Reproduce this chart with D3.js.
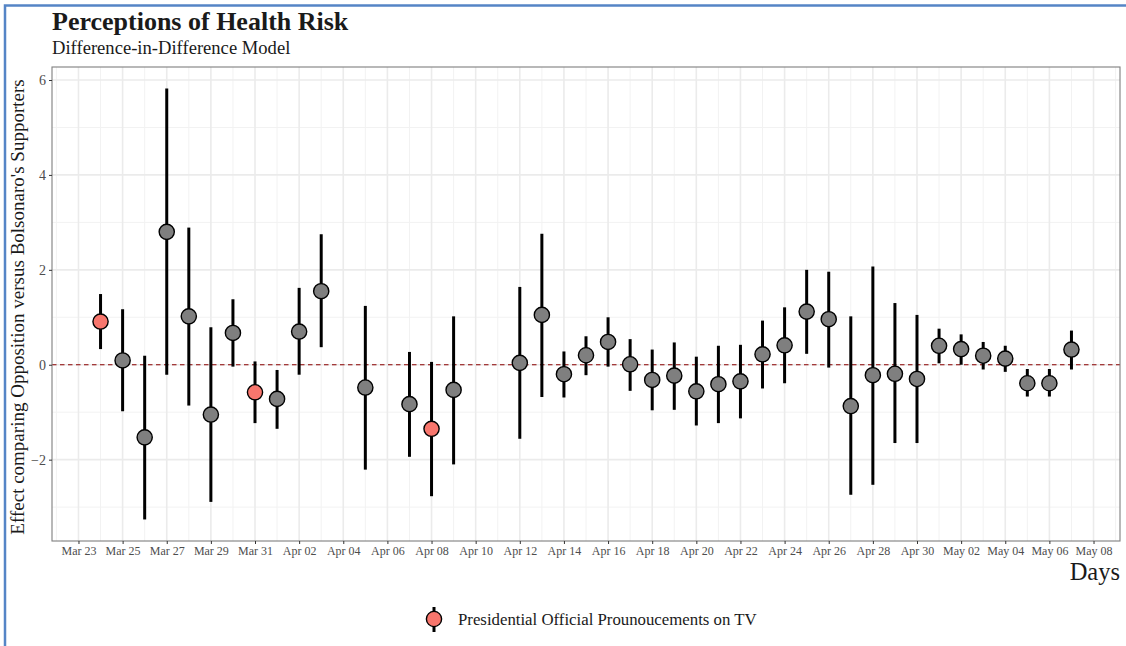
<!DOCTYPE html>
<html>
<head>
<meta charset="utf-8">
<script src="https://cdn.jsdelivr.net/npm/d3@7"></script>
<style>
  body { margin: 0; background: #fff; }
  svg { display: block; font-family: "Liberation Serif", "DejaVu Serif", serif; }
</style>
</head>
<body>
<div id="chart"></div>
<script>
const width = 1126;
const height = 646;

// Days with an estimate (2020)
const days = [
  "2020-03-24", "2020-03-25", "2020-03-26", "2020-03-27", "2020-03-28", "2020-03-29",
  "2020-03-30", "2020-03-31", "2020-04-01", "2020-04-02", "2020-04-03", "2020-04-05",
  "2020-04-07", "2020-04-08", "2020-04-09", "2020-04-12", "2020-04-13", "2020-04-14",
  "2020-04-15", "2020-04-16", "2020-04-17", "2020-04-18", "2020-04-19", "2020-04-20",
  "2020-04-21", "2020-04-22", "2020-04-23", "2020-04-24", "2020-04-25", "2020-04-26",
  "2020-04-27", "2020-04-28", "2020-04-29", "2020-04-30", "2020-05-01", "2020-05-02",
  "2020-05-03", "2020-05-04", "2020-05-05", "2020-05-06", "2020-05-07"
];
const estimates = [
  0.91, 0.09, -1.53, 2.80, 1.02, -1.05,
  0.67, -0.58, -0.72, 0.70, 1.55, -0.48,
  -0.83, -1.35, -0.53, 0.04, 1.05, -0.20,
  0.20, 0.48, 0.01, -0.32, -0.23, -0.56,
  -0.41, -0.35, 0.22, 0.41, 1.12, 0.96,
  -0.87, -0.22, -0.19, -0.30, 0.40, 0.33,
  0.19, 0.13, -0.39, -0.39, 0.32
];
const lower = [
  0.33, -0.98, -3.26, -0.21, -0.86, -2.89,
  -0.04, -1.23, -1.35, -0.21, 0.37, -2.21,
  -1.94, -2.77, -2.10, -1.56, -0.68, -0.69,
  -0.22, -0.04, -0.55, -0.96, -0.95, -1.28,
  -1.23, -1.13, -0.50, -0.39, 0.23, -0.06,
  -2.74, -2.53, -1.65, -1.65, 0.03, 0.00,
  -0.10, -0.15, -0.67, -0.67, -0.10
];
const upper = [
  1.49, 1.17, 0.19, 5.82, 2.89, 0.79,
  1.38, 0.07, -0.11, 1.62, 2.75, 1.24,
  0.27, 0.06, 1.02, 1.64, 2.76, 0.28,
  0.60, 1.00, 0.54, 0.32, 0.47, 0.17,
  0.40, 0.42, 0.93, 1.21, 2.00, 1.96,
  1.02, 2.07, 1.30, 1.05, 0.76, 0.64,
  0.48, 0.40, -0.09, -0.09, 0.72
];
// days with a presidential pronouncement on TV
const pronouncements = ["2020-03-24", "2020-03-31", "2020-04-08"];

const yTicks = [-2, 0, 2, 4, 6];
const yMinor = [-3, -1, 1, 3, 5];
const firstTick = "2020-03-23"; // x labels every 2 days from here

const parse = d3.utcParse("%Y-%m-%d");
const data = days.map((d, i) => ({
  date: parse(d),
  est: estimates[i],
  lo: lower[i],
  hi: upper[i],
  tv: pronouncements.includes(d)
}));

const margin = {top: 67, right: 6, bottom: 105, left: 52};
const panelW = width - margin.left - margin.right;
const panelH = height - margin.top - margin.bottom;

// ggplot style 5% expansion
const xExt = d3.extent(data, d => d.date);
const xPad = (xExt[1] - xExt[0]) * 0.05;
const x = d3.scaleUtc()
  .domain([new Date(+xExt[0] - xPad), new Date(+xExt[1] + xPad)])
  .range([margin.left, margin.left + panelW]);

const yLo = d3.min(data, d => d.lo), yHi = d3.max(data, d => d.hi);
const yPad = (yHi - yLo) * 0.05;
const y = d3.scaleLinear()
  .domain([yLo - yPad, yHi + yPad])
  .range([margin.top + panelH, margin.top]);

const svg = d3.select("#chart").append("svg")
  .attr("width", width)
  .attr("height", height)
  .attr("viewBox", [0, 0, width, height]);

svg.append("rect").attr("width", width).attr("height", height).attr("fill", "#fff");

// blue frame of the screenshot
svg.append("path")
  .attr("d", `M5,${height} V5.5 H${width}`)
  .attr("fill", "none")
  .attr("stroke", "#5585c6")
  .attr("stroke-width", 2.5);

// grid
const t0 = parse(firstTick);
const allDays = d3.utcDay.range(d3.utcDay.ceil(x.domain()[0]), x.domain()[1]);
const majorX = allDays.filter(d => d3.utcDay.count(t0, d) % 2 === 0);
const minorX = allDays.filter(d => d3.utcDay.count(t0, d) % 2 !== 0);

const grid = svg.append("g");
grid.selectAll(".ymin").data(yMinor).join("line")
  .attr("x1", margin.left).attr("x2", margin.left + panelW)
  .attr("y1", d => y(d)).attr("y2", d => y(d))
  .attr("stroke", "#f2f2f2").attr("stroke-width", 1);
grid.selectAll(".xmin").data(minorX).join("line")
  .attr("x1", d => x(d)).attr("x2", d => x(d))
  .attr("y1", margin.top).attr("y2", margin.top + panelH)
  .attr("stroke", "#f2f2f2").attr("stroke-width", 1);
grid.selectAll(".ymaj").data(yTicks).join("line")
  .attr("x1", margin.left).attr("x2", margin.left + panelW)
  .attr("y1", d => y(d)).attr("y2", d => y(d))
  .attr("stroke", "#ebebeb").attr("stroke-width", 1.6);
grid.selectAll(".xmaj").data(majorX).join("line")
  .attr("x1", d => x(d)).attr("x2", d => x(d))
  .attr("y1", margin.top).attr("y2", margin.top + panelH)
  .attr("stroke", "#ebebeb").attr("stroke-width", 1.6);

// zero reference line
svg.append("line")
  .attr("x1", margin.left).attr("x2", margin.left + panelW)
  .attr("y1", y(0)).attr("y2", y(0))
  .attr("stroke", "#8b0000").attr("stroke-width", 1.2)
  .attr("stroke-dasharray", "4.5,3.5");

// panel border
svg.append("rect")
  .attr("x", margin.left).attr("y", margin.top)
  .attr("width", panelW).attr("height", panelH)
  .attr("fill", "none").attr("stroke", "#7f7f7f").attr("stroke-width", 1.1);

// axes
const xAxis = svg.append("g")
  .attr("transform", `translate(0,${margin.top + panelH})`)
  .call(d3.axisBottom(x).tickValues(majorX).tickFormat(d3.utcFormat("%b %d")).tickSize(3).tickPadding(2));
xAxis.select(".domain").remove();
xAxis.selectAll("line").attr("stroke", "#333");
xAxis.selectAll("text").attr("fill", "#4d4d4d").attr("font-size", 12)
  .attr("font-family", "Liberation Serif, serif");

const yAxis = svg.append("g")
  .attr("transform", `translate(${margin.left},0)`)
  .call(d3.axisLeft(y).tickValues(yTicks).tickSize(3).tickPadding(3));
yAxis.select(".domain").remove();
yAxis.selectAll("line").attr("stroke", "#333");
yAxis.selectAll("text").attr("fill", "#4d4d4d").attr("font-size", 14)
  .attr("font-family", "Liberation Serif, serif");

// error bars
svg.append("g").selectAll("line").data(data).join("line")
  .attr("x1", d => x(d.date)).attr("x2", d => x(d.date))
  .attr("y1", d => y(d.lo)).attr("y2", d => y(d.hi))
  .attr("stroke", "#000").attr("stroke-width", 3);

// points
svg.append("g").selectAll("circle").data(data).join("circle")
  .attr("cx", d => x(d.date)).attr("cy", d => y(d.est))
  .attr("r", 7.6)
  .attr("fill", d => d.tv ? "#f8766d" : "#7f7f7f")
  .attr("stroke", "#000").attr("stroke-width", 1.4);

// titles
svg.append("text")
  .attr("x", 52).attr("y", 30)
  .attr("font-size", 26).attr("font-weight", "bold").attr("fill", "#1a1a1a")
  .text("Perceptions of Health Risk");
svg.append("text")
  .attr("x", 52).attr("y", 54)
  .attr("font-size", 18.6).attr("fill", "#1a1a1a")
  .text("Difference-in-Difference Model");

svg.append("text")
  .attr("transform", `translate(24,${margin.top + panelH / 2 + 3}) rotate(-90)`)
  .attr("text-anchor", "middle")
  .attr("font-size", 19).attr("fill", "#1a1a1a")
  .text("Effect comparing Opposition versus Bolsonaro's Supporters");

svg.append("text")
  .attr("x", margin.left + panelW).attr("y", 580)
  .attr("text-anchor", "end")
  .attr("font-size", 24.5).attr("fill", "#1a1a1a")
  .text("Days");

// legend
const legend = svg.append("g").attr("transform", "translate(434,619)");
legend.append("line").attr("y1", -12).attr("y2", 13).attr("stroke", "#000").attr("stroke-width", 3);
legend.append("circle").attr("r", 7.6).attr("fill", "#f8766d").attr("stroke", "#000").attr("stroke-width", 1.4);
legend.append("text")
  .attr("x", 24).attr("y", 6)
  .attr("font-size", 16.8).attr("fill", "#1a1a1a")
  .text("Presidential Official Prounoucements on TV");
</script>
</body>
</html>
